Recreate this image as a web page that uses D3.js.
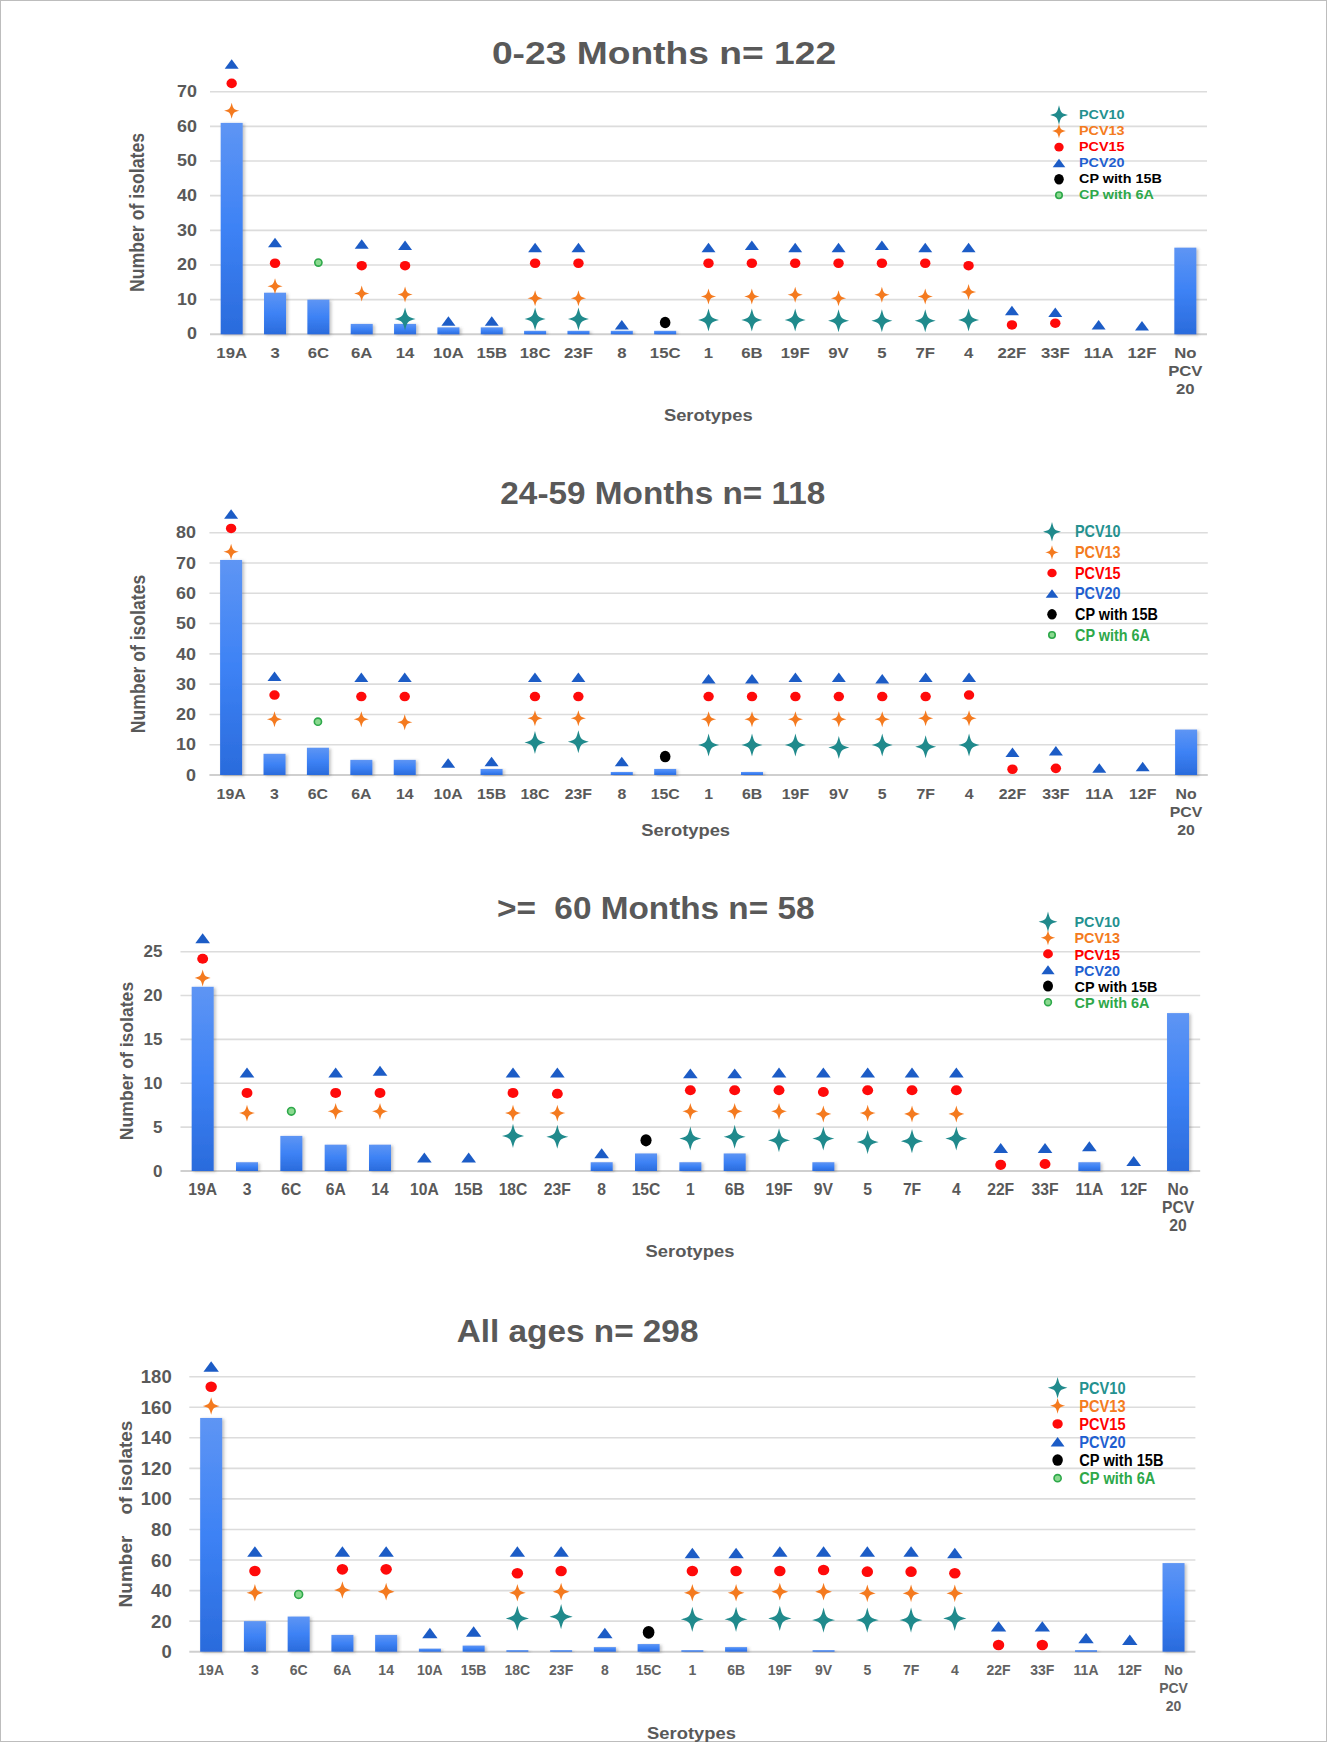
<!DOCTYPE html>
<html><head><meta charset="utf-8">
<script src="https://cdn.jsdelivr.net/npm/d3@7"></script>
<style>
html,body{margin:0;padding:0;background:#fff;}
svg{display:block;font-family:"Liberation Sans",Arial,sans-serif;}
text{white-space:pre;}
</style></head><body>
<svg id="chart" width="1328" height="1742"></svg>
<script>
// ---------- DATA ----------
const categories = ["19A","3","6C","6A","14","10A","15B","18C","23F","8","15C","1","6B","19F","9V","5","7F","4","22F","33F","11A","12F","No PCV 20"];
const chartTitles = ["0-23 Months n= 122","24-59 Months n= 118",">=  60 Months n= 58","All ages n= 298"];
const yTitles = ["Number of isolates","Number of isolates","Number of isolates","Number    of isolates"];
const xTitle = "Serotypes";
const legendLabels = ["PCV10","PCV13","PCV15","PCV20","CP with 15B","CP with 6A"];

const yTicks1 = [0,10,20,30,40,50,60,70];
const yTicks2 = [0,10,20,30,40,50,60,70,80];
const yTicks3 = [0,5,10,15,20,25];
const yTicks4 = [0,20,40,60,80,100,120,140,160,180];

const _ = null;
// 0-23 months
const bars1  = [61,12,10,3,3,2,2,1,1,1,1,0,0,0,0,0,0,0,0,0,0,0,25];
const pcv10_1 = [_,_,_,_,4.4,_,_,4.4,4.4,_,_,4.1,4.1,4.1,3.9,3.9,3.9,4.1,_,_,_,_,_];
const pcv13_1 = [64.5,13.9,_,11.8,11.5,_,_,10.4,10.4,_,_,10.9,10.9,11.4,10.4,11.4,10.9,12.2,_,_,_,_,_];
const pcv15_1 = [72.4,20.5,_,19.8,19.8,_,_,20.5,20.5,_,_,20.5,20.5,20.5,20.5,20.5,20.5,19.8,2.7,3.2,_,_,_];
const pcv20_1 = [77.9,26.4,_,26.0,25.6,3.8,3.8,25.0,25.0,2.7,_,25.0,25.6,25.0,25.0,25.6,25.0,25.0,6.8,6.3,2.7,2.4,_];
const cp15B_1 = [_,_,_,_,_,_,_,_,_,_,3.4,_,_,_,_,_,_,_,_,_,_,_,_];
const cp6A_1  = [_,_,20.7,_,_,_,_,_,_,_,_,_,_,_,_,_,_,_,_,_,_,_,_];
// 24-59 months
const bars2  = [71,7,9,5,5,0,2,0,0,1,2,0,1,0,0,0,0,0,0,0,0,0,15];
const pcv10_2 = [_,_,_,_,_,_,_,10.7,11.0,_,_,9.9,9.9,9.9,9.1,9.9,9.3,9.9,_,_,_,_,_];
const pcv13_2 = [73.7,18.4,_,18.4,17.4,_,_,18.7,18.7,_,_,18.4,18.4,18.4,18.4,18.4,18.7,18.7,_,_,_,_,_];
const pcv15_2 = [81.4,26.4,_,25.9,25.9,_,_,25.9,25.9,_,_,25.9,25.9,25.9,25.9,25.9,25.9,26.4,1.9,2.2,_,_,_];
const pcv20_2 = [86.1,32.5,_,32.2,32.2,3.9,4.4,32.2,32.2,4.4,_,31.7,31.7,32.2,32.2,31.7,32.2,32.2,7.4,7.9,2.2,2.7,_];
const cp15B_2 = [_,_,_,_,_,_,_,_,_,_,6.1,_,_,_,_,_,_,_,_,_,_,_,_];
const cp6A_2  = [_,_,17.6,_,_,_,_,_,_,_,_,_,_,_,_,_,_,_,_,_,_,_,_];
// >= 60 months
const bars3  = [21,1,4,3,3,0,0,0,0,1,2,1,2,0,1,0,0,0,0,0,1,0,18];
const pcv10_3 = [_,_,_,_,_,_,_,4.0,3.9,_,_,3.7,3.9,3.5,3.7,3.3,3.4,3.7,_,_,_,_,_];
const pcv13_3 = [22.0,6.6,_,6.8,6.8,_,_,6.6,6.6,_,_,6.8,6.8,6.8,6.5,6.6,6.5,6.5,_,_,_,_,_];
const pcv15_3 = [24.2,8.9,_,8.9,8.9,_,_,8.9,8.8,_,_,9.2,9.2,9.2,9.0,9.2,9.2,9.2,0.7,0.8,_,_,_];
const pcv20_3 = [26.5,11.2,_,11.2,11.4,1.5,1.5,11.2,11.2,2.0,_,11.1,11.1,11.2,11.2,11.2,11.2,11.2,2.6,2.6,2.8,1.1,_];
const cp15B_3 = [_,_,_,_,_,_,_,_,_,_,3.5,_,_,_,_,_,_,_,_,_,_,_,_];
const cp6A_3  = [_,_,6.8,_,_,_,_,_,_,_,_,_,_,_,_,_,_,_,_,_,_,_,_];
// all ages
const bars4  = [153,20,23,11,11,2,4,1,1,3,5,1,3,0,1,0,0,0,0,0,1,0,58];
const pcv10_4 = [_,_,_,_,_,_,_,21.8,22.9,_,_,21.2,21.2,21.8,20.7,20.7,20.7,21.8,_,_,_,_,_];
const pcv13_4 = [160.8,38.6,_,40.4,39.3,_,_,38.6,39.3,_,_,38.6,38.6,39.3,39.3,38.2,38.2,38.2,_,_,_,_,_];
const pcv15_4 = [173.4,52.8,_,53.9,53.9,_,_,51.3,52.8,_,_,52.8,52.8,52.8,53.5,52.4,52.4,51.3,4.4,4.4,_,_,_];
const pcv20_4 = [186.5,65.4,_,65.4,65.4,12.0,13.1,65.4,65.4,12.0,_,64.4,64.4,65.4,65.4,65.4,65.4,64.4,16.4,16.4,8.7,7.7,_];
const cp15B_4 = [_,_,_,_,_,_,_,_,_,_,12.7,_,_,_,_,_,_,_,_,_,_,_,_];
const cp6A_4  = [_,_,37.5,_,_,_,_,_,_,_,_,_,_,_,_,_,_,_,_,_,_,_,_];

// ---------- LAYOUT / STYLE ----------
const layouts = [
 {gridL:210, gridR:1207, y0:334.3, yTop:91.7, title:[664,53], titleSx:1.2, tickR:197, yT:[136.7,212.5], xLabY:353, ser:[708.3,415],
  leg:{sx:1059, tx:1079, y0:115, dy:16.05, font:12.5, sxs:1.15}, f:{tick:16, tickSx:1.12, x:15.2, xSx:1.1, yt:17.7, ytSx:1.12}, m:1.0},
 {gridL:209.4, gridR:1207.8, y0:775, yTop:532.7, title:[662.8,493.3], titleSx:1.075, tickR:196, yT:[138,654], xLabY:793.3, ser:[685.7,830],
  leg:{sx:1052, tx:1075, y0:531.7, dy:20.66, font:16, sxs:0.9}, f:{tick:16.3, tickSx:1.1, x:15.4, xSx:1.03, yt:17.6, ytSx:1.1}, m:1.0},
 {gridL:180.5, gridR:1200.2, y0:1171, yTop:951.7, title:[655.7,908.3], titleSx:1.075, tickR:162.5, yT:[126.8,1061], xLabY:1189.3, ser:[690,1251],
  leg:{sx:1048, tx:1074.5, y0:921.7, dy:16.1, font:15.5, sxs:0.93}, f:{tick:17, tickSx:1.0, x:16, xSx:0.98, yt:17.6, ytSx:1.05}, m:1.05},
 {gridL:189.3, gridR:1195.4, y0:1651.7, yTop:1376.7, title:[577.6,1331.7], titleSx:1.075, tickR:171.7, yT:[125,1514], xLabY:1670, ser:[691.5,1733.3],
  leg:{sx:1057.6, tx:1079.3, y0:1387.7, dy:18.1, font:17, sxs:0.86}, f:{tick:18.5, tickSx:1.0, x:14, xSx:1.0, yt:19, ytSx:1.0}, m:1.1}
];
const charts = [
 {ticks:yTicks1, bars:bars1, s:[pcv10_1,pcv13_1,pcv15_1,pcv20_1,cp15B_1,cp6A_1]},
 {ticks:yTicks2, bars:bars2, s:[pcv10_2,pcv13_2,pcv15_2,pcv20_2,cp15B_2,cp6A_2]},
 {ticks:yTicks3, bars:bars3, s:[pcv10_3,pcv13_3,pcv15_3,pcv20_3,cp15B_3,cp6A_3]},
 {ticks:yTicks4, bars:bars4, s:[pcv10_4,pcv13_4,pcv15_4,pcv20_4,cp15B_4,cp6A_4]}
];
const textGray = "#595959";
const legendColors = ["#24918f","#f47b20","#ff0000","#1f5fd0","#000000","#2ea84a"];

const svg = d3.select("#chart");
const defs = svg.append("defs");
const grad = defs.append("linearGradient").attr("id","barGrad").attr("x1",0).attr("y1",0).attr("x2",0).attr("y2",1);
grad.append("stop").attr("offset","0%").attr("stop-color","#5e95f4");
grad.append("stop").attr("offset","50%").attr("stop-color","#3d82f5");
grad.append("stop").attr("offset","100%").attr("stop-color","#2a6bdc");
const filt = defs.append("filter").attr("id","shadow").attr("x","-30%").attr("y","-10%").attr("width","160%").attr("height","130%");
filt.append("feDropShadow").attr("dx",2).attr("dy",1).attr("stdDeviation",1.6).attr("flood-color","#555").attr("flood-opacity",0.35);

svg.append("rect").attr("x",0.5).attr("y",0.5).attr("width",1326).attr("height",1741)
   .attr("fill","#fff").attr("stroke","#bdbdbd").attr("stroke-width",1);

function txt(g, x, y, str, o) {
  let tr = `translate(${x},${y}) scale(${o.sx||1},1)`;
  if (o.rot) tr += ` rotate(${o.rot})`;
  return g.append("text").attr("transform", tr)
    .attr("text-anchor", o.anchor||"start").attr("dominant-baseline","central")
    .attr("font-size", o.size).attr("font-weight", o.weight||"bold")
    .attr("fill", o.fill||textGray).text(str);
}
// four-pointed star with concave sides
function starPath(a, b, c) {
  return `M0,${-a}C${c},${-c} ${c},${-c} ${b},0C${c},${c} ${c},${c} 0,${a}C${-c},${c} ${-c},${c} ${-b},0C${-c},${-c} ${-c},${-c} 0,${-a}Z`;
}
function drawMarker(g, k, x, y, m) {
  const t = g.append("g").attr("transform", `translate(${x},${y})`);
  if (k===0) t.append("path").attr("d", starPath(11.5*m, 10.5*m, 2.3*m)).attr("fill", "#208a8c");
  else if (k===1) t.append("path").attr("d", starPath(8*m, 7.6*m, 1.7*m)).attr("fill", "#f47a1f");
  else if (k===2) t.append("ellipse").attr("rx",5.2*m).attr("ry",4.8*m).attr("fill","#ff0a0a");
  else if (k===3) t.append("path").attr("d", `M0,${-5*m}L${7*m},${4.5*m}L${-7*m},${4.5*m}Z`).attr("fill","#1c5cc6");
  else if (k===4) t.append("ellipse").attr("rx",5.3*m).attr("ry",5.8*m).attr("fill","#000");
  else t.append("circle").attr("r",3.6*m).attr("fill","#8ad98f").attr("stroke","#2ea84a").attr("stroke-width",1.6);
}

charts.forEach((c, ci) => {
  const L = layouts[ci];
  const g = svg.append("g");
  const step = (L.gridR - L.gridL) / categories.length;
  const p = 1 - 22 / step;
  const x = d3.scaleBand().domain(categories).range([L.gridL, L.gridR]).paddingInner(p).paddingOuter(p/2);
  const yMax = c.ticks[c.ticks.length-1];
  const y = d3.scaleLinear().domain([0, yMax]).range([L.y0, L.yTop]);
  const bw = x.bandwidth();

  g.selectAll("line.grid").data(c.ticks).join("line")
    .attr("x1", L.gridL).attr("x2", L.gridR).attr("y1", d=>y(d)).attr("y2", d=>y(d))
    .attr("stroke", d=> d===0 ? "#cfcfcf" : "#dcdcdc").attr("stroke-width", d=> d===0 ? 2 : 1.6);

  c.ticks.forEach(t => txt(g, L.tickR, y(t), String(t), {size:L.f.tick, sx:L.f.tickSx, anchor:"end"}));

  const bd = categories.map((k,i)=>({k, v:c.bars[i]})).filter(d=>d.v>0);
  g.selectAll("rect.bar").data(bd).join("rect")
    .attr("x", d=>x(d.k)).attr("width", bw)
    .attr("y", d=>y(d.v)).attr("height", d=>y(0)-y(d.v))
    .attr("fill","url(#barGrad)").attr("filter","url(#shadow)");

  c.s.forEach((arr, k) => {
    arr.forEach((v, i) => {
      if (v===null) return;
      drawMarker(g, k, x(categories[i]) + bw/2, y(v), L.m);
    });
  });

  categories.forEach(k => {
    const cx = x(k) + bw/2;
    const lines = k === "No PCV 20" ? ["No","PCV","20"] : [k];
    lines.forEach((ln, li) => txt(g, cx, L.xLabY + li*18, ln,
      {size:L.f.x, sx:L.f.xSx, anchor:"middle", fill: ci===3 ? "#626262" : textGray}));
  });

  txt(g, L.title[0], L.title[1], chartTitles[ci], {size:31, sx:L.titleSx, anchor:"middle"});
  txt(g, L.ser[0], L.ser[1], xTitle, {size:17, sx:1.08, anchor:"middle"});
  txt(g, L.yT[0], L.yT[1], yTitles[ci], {size:L.f.yt, sx:L.f.ytSx, anchor:"middle", rot:-90});

  legendLabels.forEach((lab, k) => {
    const ly = L.leg.y0 + k*L.leg.dy;
    drawMarker(g, k, L.leg.sx, ly, k===0 ? 0.85*L.m : 0.9*L.m);
    txt(g, L.leg.tx, ly, lab, {size:L.leg.font, sx:L.leg.sxs, fill:legendColors[k]});
  });
});
</script>
</body></html>
